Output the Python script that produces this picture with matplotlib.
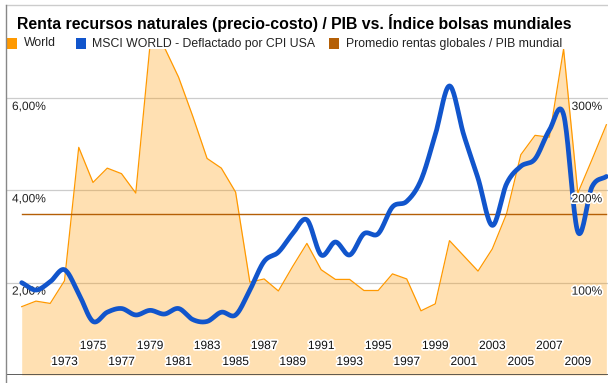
import numpy as np
import matplotlib
matplotlib.use("Agg")
import matplotlib.pyplot as plt
import matplotlib.patheffects as pe
from matplotlib.lines import Line2D
from matplotlib.patches import Rectangle

plt.rcParams['font.family'] = ['Liberation Sans', 'DejaVu Sans']

title = "Renta recursos naturales (precio-costo) / PIB vs. Índice bolsas mundiales"
legend_labels = ["World", "MSCI WORLD - Deflactado por CPI USA", "Promedio rentas globales / PIB mundial"]

years = list(range(1970, 2012))
# World: natural resource rents, % of GDP (left axis)
world = [1.48, 1.60, 1.55, 2.04, 4.93, 4.17, 4.48, 4.36, 3.94, 7.15,
         7.10, 6.45, 5.60, 4.69, 4.48, 3.96, 2.01, 2.08, 1.82, 2.35,
         2.85, 2.28, 2.07, 2.07, 1.83, 1.83, 2.19, 2.08, 1.39, 1.54,
         2.91, 2.58, 2.25, 2.73, 3.49, 4.77, 5.19, 5.15, 7.06, 3.94,
         4.67, 5.42]
# MSCI World deflated by US CPI, % (right axis)
msci = [100, 92, 101, 114, 88, 58, 68, 72, 65, 70,
        66, 72, 60, 58, 68, 65, 92, 123, 133, 153,
        168, 130, 144, 130, 153, 153, 182, 188, 211, 260,
        313, 260, 213, 162, 207, 226, 234, 265, 282, 155,
        204, 215]
promedio = 3.48

left_ticks = [2, 4, 6]
left_tick_labels = ["2,00%", "4,00%", "6,00%"]
right_ticks = [100, 200, 300]
right_tick_labels = ["100%", "200%", "300%"]
xtick_years = list(range(1973, 2010, 2))

W, H = 608, 383
fig = plt.figure(figsize=(W / 100, H / 100), dpi=100)

x0, x1, yb, yt = 6, 608, 375, 49
ax = fig.add_axes([x0 / W, (H - yb) / H, (x1 - x0) / W, (yb - yt) / H])
ymax = 7.06
ax.set_ylim(0, ymax)
px_per_year = 14.26
ax.set_xlim(1970 - (21.7 - x0) / px_per_year, 1970 + (x1 - 21.7) / px_per_year)
for s in ax.spines.values():
    s.set_visible(False)
ax.set_xticks([])
ax.set_yticks([])
ax.patch.set_alpha(0)

ax2 = ax.twinx()
ax2.set_ylim(0, ymax * 50)
for s in ax2.spines.values():
    s.set_visible(False)
ax2.set_yticks([])

# gridlines
for t in left_ticks:
    ax.axhline(t, color='#cccccc', lw=0.9, zorder=0)
ax.axhline(0, color='#333333', lw=1.1, zorder=5)

# World area
ax.fill_between(years, 0, world, color='#FF9900', alpha=0.3, lw=0, zorder=1)
ax.plot(years, world, color='#FF9900', lw=0.9, zorder=2)

# Promedio line
ax.plot(years, [promedio] * len(years), color='#B45F06', lw=1.0, zorder=3)

# MSCI smooth curve (Catmull-Rom through the data points)
xs = np.array(years, dtype=float)
ys = np.array(msci, dtype=float)
n = len(xs)
m = np.zeros(n)
m[1:-1] = (ys[2:] - ys[:-2]) / 2
m[0] = ys[1] - ys[0]
m[-1] = ys[-1] - ys[-2]
cx, cy = [], []
t = np.linspace(0, 1, 20, endpoint=False)
h00 = 2 * t**3 - 3 * t**2 + 1
h10 = t**3 - 2 * t**2 + t
h01 = -2 * t**3 + 3 * t**2
h11 = t**3 - t**2
for i in range(n - 1):
    cx.extend(xs[i] + t * (xs[i + 1] - xs[i]))
    cy.extend(h00 * ys[i] + h10 * m[i] + h01 * ys[i + 1] + h11 * m[i + 1])
cx.append(xs[-1]); cy.append(ys[-1])
ax2.plot(cx, cy, color='#1155CC', lw=3.4, zorder=4, solid_capstyle='round')

halo = [pe.withStroke(linewidth=2.5, foreground='white')]
tick_fs = 8.6

# left labels (inside, below gridline)
for v, lab in zip(left_ticks, left_tick_labels):
    ax.annotate(lab, xy=(0, v), xycoords=('axes fraction', 'data'),
                xytext=(6, -9), textcoords='offset pixels', ha='left', va='center',
                fontsize=tick_fs, color='#222222', path_effects=halo, zorder=10)
for v, lab in zip(right_ticks, right_tick_labels):
    ax2.annotate(lab, xy=(1, v), xycoords=('axes fraction', 'data'),
                 xytext=(-6, -9), textcoords='offset pixels', ha='right', va='center',
                 fontsize=tick_fs, color='#222222', path_effects=halo, zorder=10)
for yv in xtick_years:
    upper = ((yv - 1975) % 4 == 0)
    ax.annotate(str(yv), xy=(yv, 0), xycoords=('data', 'data'),
                xytext=(0, 29 if upper else 13), textcoords='offset pixels',
                ha='center', va='center', fontsize=tick_fs, color='#111111',
                path_effects=halo, zorder=10)

# frame lines
fig.add_artist(Line2D([6 / W, 1], [1 - 5 / H, 1 - 5 / H], color='#cccccc', lw=1.0))
fig.add_artist(Line2D([6 / W, 6 / W], [0, 1 - 5 / H], color='#888888', lw=1.0))

# title
fig.text(17 / W, 1 - 23.3 / H, title, fontsize=11.45, fontweight='bold', color='#000000',
         ha='left', va='center')

# legend
leg_y = 43.5
items = [(7, '#FF9900', legend_labels[0]), (76, '#1155CC', legend_labels[1]),
         (329, '#B45F06', legend_labels[2])]
for lx, col, lab in items:
    fig.add_artist(Rectangle((lx / W, 1 - (leg_y + 5) / H), 10 / W, 10 / H,
                             transform=fig.transFigure, color=col, lw=0))
    fig.text((lx + 16.5) / W, 1 - leg_y / H, lab, fontsize=8.8, color='#222222',
             ha='left', va='center')

fig.savefig('out.png', dpi=100)
